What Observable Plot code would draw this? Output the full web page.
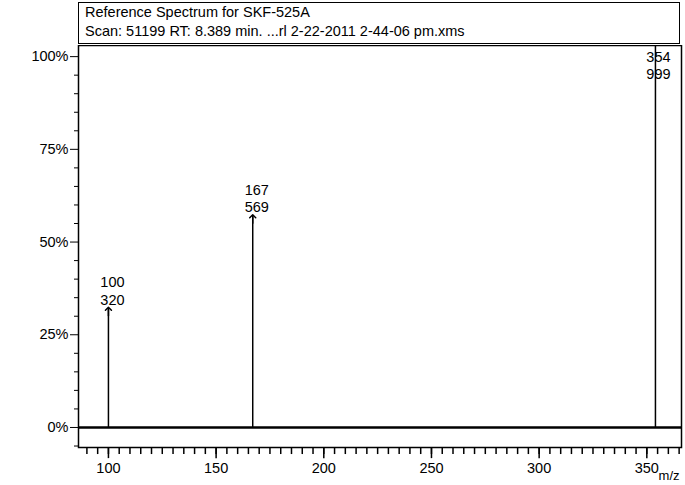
<!DOCTYPE html>
<html><head><meta charset="utf-8">
<script src="https://cdn.jsdelivr.net/npm/d3@7"></script>
<script src="https://cdn.jsdelivr.net/npm/@observablehq/plot@0.6"></script>
<style>
body{margin:0;background:#fff;font-family:"Liberation Sans",Arial,sans-serif;}
#wrap{position:relative;width:685px;height:485px;overflow:hidden;}
#hdr{position:absolute;left:78px;top:2px;width:602px;height:42px;border-left:1.5px solid #000;border-right:1.5px solid #000;border-top:1.5px solid #000;border-bottom:1.5px solid #000;font-size:14.5px;line-height:19px;padding-left:6px;box-sizing:border-box;}
#chart{position:absolute;left:0;top:45px;}
</style></head><body>
<div id="wrap"><div id="hdr">Reference Spectrum for SKF-525A<br>Scan: 51199 RT: 8.389 min. ...rl 2-22-2011 2-44-06 pm.xms</div><div id="chart"></div></div>
<script>
const mz = [100, 167, 354];
const intensity = [320, 569, 999];
const maxI = 999;
const yTicks = [0, 25, 50, 75, 100];
const xTicks = [100, 150, 200, 250, 300, 350];
const peaks = mz.map((m, i) => ({mz: m, inten: intensity[i], pct: intensity[i] / maxI * 100, label: m + "\n" + intensity[i]}));
const arrowed = peaks.filter(p => p.pct < 99);
const topPeaks = peaks.filter(p => p.pct >= 99);
const chart = Plot.plot({
  width: 685, height: 440,
  marginLeft: 78, marginRight: 4, marginTop: 0, marginBottom: 38,
  style: {fontFamily: '"Liberation Sans",Arial,sans-serif', fontSize: "14.5px", color: "#000", background: "#fff"},
  x: {domain: [86.1, 366.1], label: null},
  y: {domain: [-5.4, 103], label: null},
  marks: [
    Plot.frame({strokeWidth: 1.5}),
    Plot.axisX({ticks: xTicks, tickSize: 0, tickPadding: 15, fontSize: 14.5, label: null}),
    Plot.ruleX(d3.range(90, 366, 5), {x: d => d, y1: -5.4, y2: -7.3, strokeWidth: 1.5}),
    Plot.ruleX(xTicks, {x: d => d, y1: -5.4, y2: -8.4, strokeWidth: 1.5}),
    Plot.axisY({ticks: yTicks, tickSize: 8, tickFormat: d => d + "%", fontSize: 14.5, tickPadding: 2, label: null}),
    Plot.axisY({ticks: d3.range(-5, 101, 5).filter(v => v % 25 !== 0), tickSize: 4, tickFormat: () => "", label: null}),
    Plot.ruleY([0], {strokeWidth: 2.5}),
    Plot.ruleX(arrowed, {x: "mz", y1: 0, y2: "pct", strokeWidth: 1.5}),
    Plot.link(arrowed, {x1: "mz", x2: "mz", y1: d => d.pct - 2, y2: "pct", markerEnd: "arrow", strokeWidth: 1.5}),
    Plot.text(arrowed, {x: "mz", y: "pct", text: "label", lineAnchor: "bottom", dy: -4, dx: 4, lineHeight: 1.2, fontSize: 14.5}),
    Plot.ruleX(topPeaks, {x: "mz", y1: 0, y2: 103, strokeWidth: 1.5}),
    Plot.text(topPeaks, {x: "mz", y: 103, text: "label", lineAnchor: "top", dy: 4, dx: 3, lineHeight: 1.2, fontSize: 14.5}),
    Plot.text(["m/z"], {frameAnchor: "bottom-right", dy: 32, dx: -2, fontSize: 13})
  ]
});
document.getElementById("chart").append(chart);
</script></body></html>
